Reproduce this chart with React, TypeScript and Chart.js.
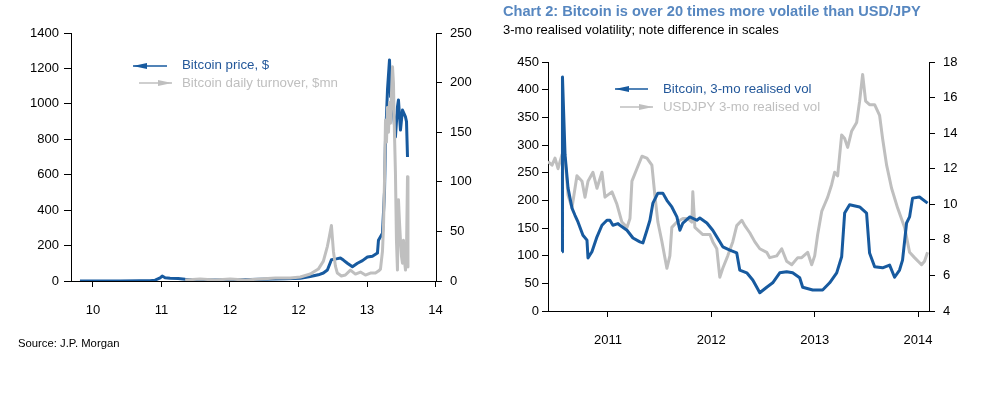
import React, { useEffect, useRef } from "react";
import { Chart, registerables } from "chart.js";

Chart.register(...registerables);

const FONT = '"Liberation Sans", Arial, Helvetica, sans-serif';
const BLUE = "#175a9f";
const GREY = "#bfbfbf";
const TITLE_BLUE = "#5787c0";
const LEGEND_BLUE = "#24589a";

// ---------- Left chart: Bitcoin price and daily turnover ----------
const priceDates = [2010.524, 2010.743, 2010.963, 2011.182, 2011.292, 2011.347, 2011.402, 2011.424, 2011.456, 2011.511, 2011.599, 2011.676, 2011.84, 2012.169, 2012.498, 2012.772, 2012.937, 2013.046, 2013.134, 2013.189, 2013.233, 2013.277, 2013.331, 2013.375, 2013.408, 2013.452, 2013.507, 2013.562, 2013.617, 2013.671, 2013.726, 2013.781, 2013.792, 2013.836, 2013.858, 2013.869, 2013.891, 2013.913, 2013.924, 2013.935, 2013.956, 2013.978, 2014.0, 2014.011, 2014.033, 2014.055, 2014.088, 2014.099, 2014.11];
const priceValues = [0.1, 0.1, 0.3, 0.8, 1, 5, 18, 28, 18, 16, 14, 10, 5, 5, 10, 12, 15, 25, 35, 45, 62, 120, 125, 130, 118, 100, 80, 100, 115, 135, 140, 158, 230, 270, 500, 795, 1080, 1248, 1040, 1190, 950, 813, 982, 1022, 852, 965, 926, 900, 700];

const turnoverDates = [2011.676, 2011.84, 2012.005, 2012.169, 2012.334, 2012.498, 2012.663, 2012.827, 2012.937, 2013.046, 2013.134, 2013.189, 2013.233, 2013.255, 2013.277, 2013.299, 2013.321, 2013.342, 2013.386, 2013.43, 2013.485, 2013.54, 2013.595, 2013.649, 2013.704, 2013.759, 2013.792, 2013.814, 2013.836, 2013.847, 2013.858, 2013.869, 2013.88, 2013.891, 2013.902, 2013.913, 2013.924, 2013.935, 2013.946, 2013.956, 2013.967, 2013.978, 2013.989, 2014.0, 2014.011, 2014.022, 2014.033, 2014.044, 2014.055, 2014.066, 2014.077, 2014.088, 2014.099, 2014.11, 2014.115];
const turnoverValues = [1, 2, 1, 2, 1, 2, 3, 3, 4, 7, 12, 20, 35, 45, 56, 30, 15, 8, 5, 6, 11, 7, 9, 6, 8, 8, 10, 12, 30, 54, 100, 162, 140, 175, 150, 180, 159, 190, 216, 200, 150, 109, 41, 11, 82, 60, 41, 25, 18, 41, 20, 11, 30, 105, 14];

const leftXTicks = [2010 + 8 / 12, 2011 + 5 / 12, 2012 + 2 / 12, 2012 + 11 / 12, 2013 + 8 / 12, 2014 + 5 / 12];
const leftXTickLabels = ["10", "11", "12", "12", "13", "14"];

// ---------- Right chart: 3-mo realised volatility ----------
const btcVolDates = [2010.556, 2010.56, 2010.585, 2010.614, 2010.652, 2010.681, 2010.71, 2010.758, 2010.797, 2010.807, 2010.845, 2010.894, 2010.942, 2010.99, 2011.019, 2011.048, 2011.097, 2011.116, 2011.184, 2011.242, 2011.309, 2011.338, 2011.377, 2011.406, 2011.435, 2011.483, 2011.531, 2011.57, 2011.618, 2011.667, 2011.696, 2011.725, 2011.792, 2011.86, 2011.889, 2011.957, 2012.014, 2012.082, 2012.111, 2012.179, 2012.246, 2012.275, 2012.343, 2012.401, 2012.44, 2012.469, 2012.536, 2012.594, 2012.662, 2012.729, 2012.787, 2012.855, 2012.884, 2012.981, 2013.077, 2013.145, 2013.213, 2013.261, 2013.29, 2013.338, 2013.435, 2013.502, 2013.531, 2013.58, 2013.657, 2013.725, 2013.773, 2013.821, 2013.85, 2013.889, 2013.918, 2013.947, 2014.014, 2014.092];
const btcVolValues = [107, 423, 282, 222, 186, 173, 161, 137, 128, 96, 107, 134, 155, 164, 164, 155, 158, 155, 146, 132, 125, 123, 146, 164, 195, 213, 213, 200, 188, 170, 146, 159, 170, 164, 168, 159, 146, 125, 116, 110, 105, 74, 69, 56, 43, 33, 43, 51, 69, 71, 69, 60, 43, 38, 38, 51, 69, 98, 177, 192, 188, 177, 105, 80, 78, 83, 61, 74, 92, 159, 170, 204, 206, 195];

const usdjpyDates = [2010.42, 2010.459, 2010.488, 2010.517, 2010.556, 2010.585, 2010.614, 2010.652, 2010.7, 2010.749, 2010.778, 2010.807, 2010.855, 2010.894, 2010.942, 2010.971, 2011.039, 2011.087, 2011.135, 2011.184, 2011.213, 2011.232, 2011.28, 2011.329, 2011.377, 2011.425, 2011.454, 2011.483, 2011.522, 2011.57, 2011.599, 2011.618, 2011.667, 2011.725, 2011.773, 2011.812, 2011.821, 2011.841, 2011.918, 2011.986, 2012.014, 2012.053, 2012.082, 2012.111, 2012.159, 2012.208, 2012.246, 2012.295, 2012.324, 2012.372, 2012.42, 2012.469, 2012.536, 2012.565, 2012.633, 2012.681, 2012.729, 2012.778, 2012.836, 2012.874, 2012.932, 2012.971, 2013.0, 2013.029, 2013.068, 2013.097, 2013.126, 2013.164, 2013.193, 2013.222, 2013.261, 2013.29, 2013.319, 2013.357, 2013.406, 2013.435, 2013.464, 2013.493, 2013.531, 2013.58, 2013.628, 2013.657, 2013.696, 2013.744, 2013.802, 2013.87, 2013.918, 2013.966, 2014.034, 2014.063, 2014.092];
const usdjpyValues = [12.4, 12.2, 12.6, 12.0, 12.8, 12.6, 10.5, 9.8, 11.6, 11.3, 10.4, 11.3, 11.8, 10.9, 11.8, 10.4, 10.7, 10.0, 9.0, 8.7, 9.2, 11.3, 12.0, 12.7, 12.6, 12.2, 10.5, 9.0, 7.9, 6.4, 7.1, 8.7, 9.0, 9.2, 9.2, 9.0, 10.7, 8.7, 8.3, 8.3, 7.9, 7.5, 5.9, 6.4, 7.1, 7.9, 8.8, 9.1, 8.8, 8.4, 7.9, 7.5, 7.3, 7.0, 7.1, 7.5, 6.8, 6.6, 7.0, 7.0, 7.3, 6.6, 7.1, 8.3, 9.6, 10.0, 10.4, 11.1, 11.8, 11.6, 13.9, 13.7, 13.2, 14.1, 14.6, 15.8, 17.3, 15.8, 15.6, 15.6, 15.0, 13.7, 12.2, 10.9, 9.8, 8.7, 7.3, 7.0, 6.6, 6.8, 7.3];

const rightXTicks = [2011, 2012, 2013, 2014];

const toPoints = (xs: number[], ys: number[]) => xs.map((x, i) => ({ x, y: ys[i] }));

function yAxis(position: "left" | "right", min: number, max: number, step: number, width: number, tickLength: number, pad: number) {
  return {
    type: "linear",
    position,
    min,
    max,
    afterFit: (s: any) => { s.width = width; },
    ticks: {
      stepSize: step,
      color: "#000",
      padding: pad,
      font: { family: FONT, size: 13 },
      callback: (v: any) => String(Number(v)),
    },
    grid: { display: true, drawOnChartArea: false, drawTicks: true, tickLength, color: "#000", lineWidth: 1 },
    border: { display: true, color: "#000", width: 1 },
  };
}

function xAxis(min: number, max: number, ticks: number[], labels: (v: number, i: number) => string, height: number) {
  return {
    type: "linear",
    min,
    max,
    afterBuildTicks: (s: any) => { s.ticks = ticks.map((v) => ({ value: v })); },
    afterFit: (s: any) => { s.height = height; },
    ticks: {
      color: "#000",
      padding: 16,
      autoSkip: false,
      maxRotation: 0,
      font: { family: FONT, size: 13 },
      callback: (v: any, i: number) => labels(Number(v), i),
    },
    grid: { display: true, drawOnChartArea: false, drawTicks: true, tickLength: 6, color: "#000", lineWidth: 1 },
    border: { display: true, color: "#000", width: 1 },
  };
}

const lineStyle = (color: string) => ({
  borderColor: color,
  backgroundColor: color,
  borderWidth: 3,
  pointRadius: 0,
  tension: 0,
  fill: false,
  borderJoinStyle: "round" as const,
});

function leftConfig(): any {
  return {
    type: "line",
    data: {
      datasets: [
        { label: "Bitcoin daily turnover, $mn", data: toPoints(turnoverDates, turnoverValues), yAxisID: "y2", ...lineStyle(GREY) },
        { label: "Bitcoin price, $", data: toPoints(priceDates, priceValues), yAxisID: "y", ...lineStyle(BLUE) },
      ],
    },
    options: {
      responsive: false,
      animation: false,
      devicePixelRatio: 1,
      layout: { padding: { top: 33, left: 0, right: 0, bottom: 0 } },
      plugins: { legend: { display: false }, tooltip: { enabled: false }, title: { display: false } },
      scales: {
        x: xAxis(2010.426, 2014.422, leftXTicks, (_v, i) => leftXTickLabels[i], 49),
        y: yAxis("left", 0, 1400, 200, 71, 7, 5),
        y2: yAxis("right", 0, 250, 50, 44, 6, 8),
      },
    },
  };
}

function rightConfig(): any {
  return {
    type: "line",
    data: {
      datasets: [
        { label: "Bitcoin, 3-mo realised vol", data: toPoints(btcVolDates, btcVolValues), yAxisID: "y", ...lineStyle(BLUE) },
        { label: "USDJPY 3-mo realised vol", data: toPoints(usdjpyDates, usdjpyValues), yAxisID: "y2", ...lineStyle(GREY) },
      ],
    },
    options: {
      responsive: false,
      animation: false,
      devicePixelRatio: 1,
      layout: { padding: { top: 62, left: 0, right: 0, bottom: 0 } },
      plugins: { legend: { display: false }, tooltip: { enabled: false }, title: { display: false } },
      scales: {
        x: xAxis(2010.42, 2014.106, rightXTicks, (v) => String(Math.round(v)), 49),
        y: yAxis("left", 0, 450, 50, 68, 6, 3),
        y2: yAxis("right", 4, 18, 2, 57, 6, 8),
      },
    },
  };
}

function ChartCanvas(props: { make: () => any; left: number; top: number; width: number; height: number }) {
  const ref = useRef<HTMLCanvasElement>(null);
  useEffect(() => {
    const chart = new Chart(ref.current as HTMLCanvasElement, props.make());
    return () => chart.destroy();
  }, []);
  return (
    <canvas
      ref={ref}
      width={props.width}
      height={props.height}
      style={{ position: "absolute", left: props.left, top: props.top, width: props.width, height: props.height }}
    />
  );
}

function Arrow(props: { x1: number; x2: number; y: number; color: string; head: "left" | "right" }) {
  const { x1, x2, y, color, head } = props;
  const hl = 14;
  const hh = 3;
  const pts = head === "left"
    ? `${x1},${y} ${x1 + hl},${y - hh} ${x1 + hl},${y + hh}`
    : `${x2},${y} ${x2 - hl},${y - hh} ${x2 - hl},${y + hh}`;
  return (
    <g>
      <line x1={x1} y1={y} x2={x2} y2={y} stroke={color} strokeWidth={1.5} />
      <polygon points={pts} fill={color} />
    </g>
  );
}

const textBase: React.CSSProperties = { position: "absolute", fontFamily: FONT, whiteSpace: "nowrap", margin: 0 };

export default function App() {
  return (
    <div style={{ position: "fixed", left: 0, top: 0, width: 986, height: 393, background: "#fff", overflow: "hidden" }}>
      <ChartCanvas make={leftConfig} left={0} top={0} width={480} height={330} />
      <ChartCanvas make={rightConfig} left={480} top={0} width={506} height={360} />
      <svg width={986} height={393} style={{ position: "absolute", left: 0, top: 0, pointerEvents: "none" }}>
        <Arrow x1={133} x2={167} y={66} color={BLUE} head="left" />
        <Arrow x1={139} x2={172} y={83} color={GREY} head="right" />
        <Arrow x1={615} x2={648} y={89} color={BLUE} head="left" />
        <Arrow x1={620} x2={653} y={107} color={GREY} head="right" />
      </svg>
      <div style={{ ...textBase, left: 182, top: 57, fontSize: 13.3, lineHeight: "16px", color: LEGEND_BLUE }}>Bitcoin price, $</div>
      <div style={{ ...textBase, left: 182, top: 75, fontSize: 13.3, lineHeight: "16px", color: GREY }}>Bitcoin daily turnover, $mn</div>
      <div style={{ ...textBase, left: 663, top: 81, fontSize: 13.3, lineHeight: "16px", color: LEGEND_BLUE }}>Bitcoin, 3-mo realised vol</div>
      <div style={{ ...textBase, left: 663, top: 99, fontSize: 13.3, lineHeight: "16px", color: GREY }}>USDJPY 3-mo realised vol</div>
      <div style={{ ...textBase, left: 503, top: 2, fontSize: 14.6, lineHeight: "18px", fontWeight: "bold", color: TITLE_BLUE }}>
        Chart 2: Bitcoin is over 20 times more volatile than USD/JPY
      </div>
      <div style={{ ...textBase, left: 503, top: 22, fontSize: 13, lineHeight: "16px", color: "#000" }}>
        3-mo realised volatility; note difference in scales
      </div>
      <div style={{ ...textBase, left: 18, top: 336, fontSize: 11.3, lineHeight: "14px", color: "#000" }}>Source: J.P. Morgan</div>
    </div>
  );
}
